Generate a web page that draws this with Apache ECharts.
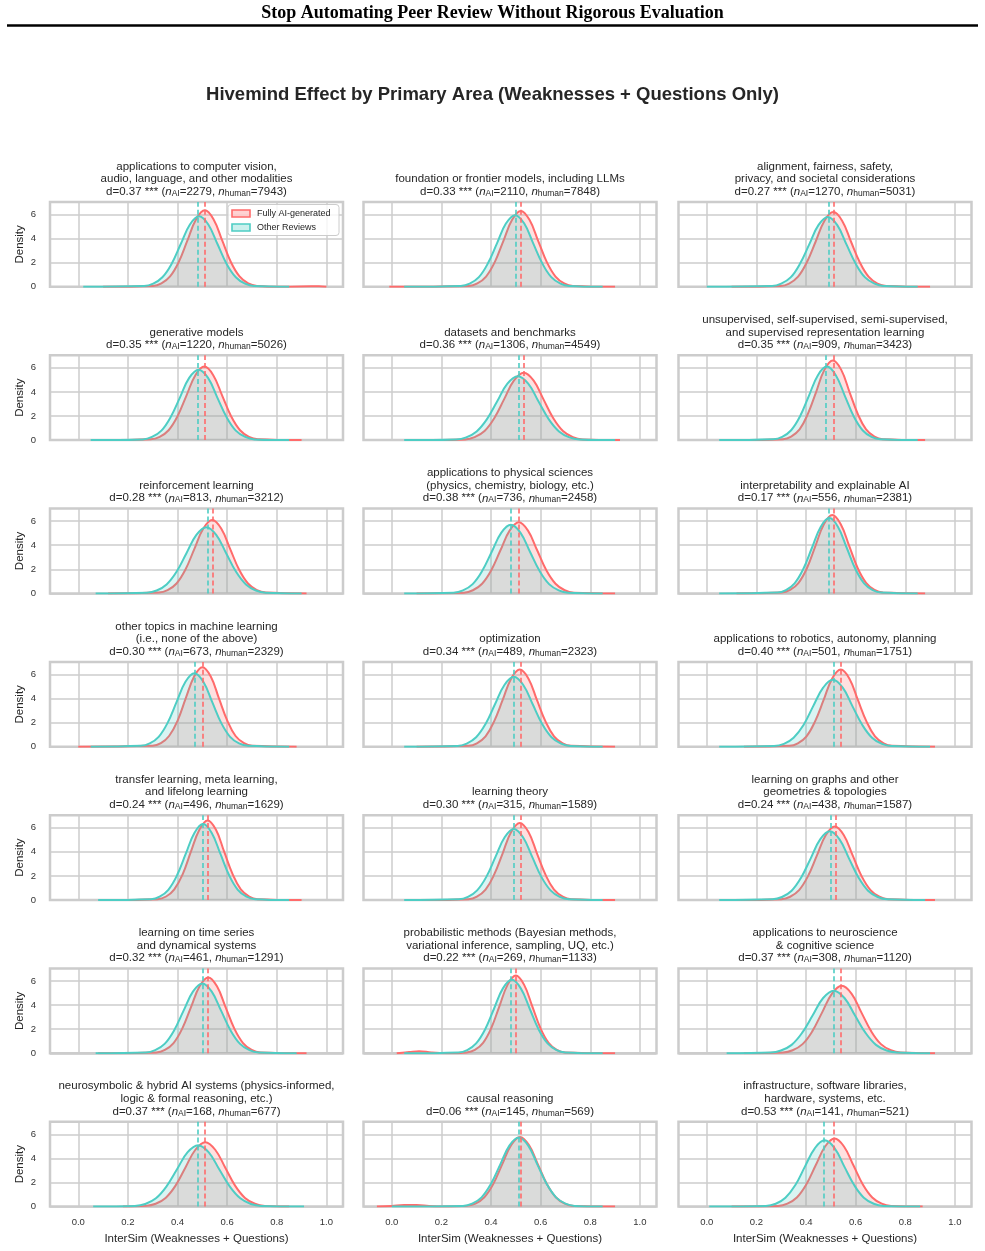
<!DOCTYPE html>
<html>
<head>
<meta charset="utf-8">
<script src="https://cdn.jsdelivr.net/npm/echarts@6/dist/echarts.min.js"></script>
<style>html,body{margin:0;padding:0;background:#fff}#c{width:985px;height:1251px}</style>
</head>
<body>
<div id="c"></div>
<script>
// ---------------- DATA ----------------
const panelTitles = [
  "applications to computer vision,\naudio, language, and other modalities",
  "foundation or frontier models, including LLMs",
  "alignment, fairness, safety,\nprivacy, and societal considerations",
  "generative models",
  "datasets and benchmarks",
  "unsupervised, self-supervised, semi-supervised,\nand supervised representation learning",
  "reinforcement learning",
  "applications to physical sciences\n(physics, chemistry, biology, etc.)",
  "interpretability and explainable AI",
  "other topics in machine learning\n(i.e., none of the above)",
  "optimization",
  "applications to robotics, autonomy, planning",
  "transfer learning, meta learning,\nand lifelong learning",
  "learning theory",
  "learning on graphs and other\ngeometries & topologies",
  "learning on time series\nand dynamical systems",
  "probabilistic methods (Bayesian methods,\nvariational inference, sampling, UQ, etc.)",
  "applications to neuroscience\n& cognitive science",
  "neurosymbolic & hybrid AI systems (physics-informed,\nlogic & formal reasoning, etc.)",
  "causal reasoning",
  "infrastructure, software libraries,\nhardware, systems, etc."
];
const cohenD = ["0.37","0.33","0.27","0.35","0.36","0.35","0.28","0.38","0.17","0.30","0.34","0.40","0.24","0.30","0.24","0.32","0.22","0.37","0.37","0.06","0.53"];
const nAI = [2279,2110,1270,1220,1306,909,813,736,556,673,489,501,496,315,438,461,269,308,168,145,141];
const nHuman = [7943,7848,5031,5026,4549,3423,3212,2458,2381,2329,2323,1751,1629,1589,1587,1291,1133,1120,677,569,521];
const meanAI = [0.508,0.520,0.509,0.508,0.532,0.508,0.540,0.512,0.506,0.500,0.516,0.540,0.521,0.516,0.516,0.524,0.500,0.544,0.512,0.516,0.513];
const meanHuman = [0.484,0.497,0.487,0.485,0.508,0.484,0.516,0.480,0.494,0.468,0.492,0.508,0.503,0.492,0.496,0.500,0.484,0.512,0.483,0.512,0.473];

// KDE curves: [x, density] pairs
const aiCurves = [
  [[0.10,0],[0.300,0.07],[0.335,0.28],[0.370,0.86],[0.405,2.06],[0.440,3.85],[0.475,5.61],[0.510,6.35],[0.545,5.61],[0.580,3.85],[0.615,2.06],[0.650,0.86],[0.685,0.28],[0.720,0.07],[0.82,0],[0.94,0.04],[0.97,0.05],[1.0,0]],
  [[-0.01,0],[0.310,0.07],[0.345,0.28],[0.380,0.85],[0.415,2.05],[0.450,3.82],[0.485,5.56],[0.520,6.3],[0.555,5.56],[0.590,3.82],[0.625,2.05],[0.660,0.85],[0.695,0.28],[0.730,0.07],[0.90,0]],
  [[0.10,0],[0.297,0.07],[0.332,0.27],[0.368,0.84],[0.403,2.02],[0.439,3.76],[0.474,5.47],[0.510,6.2],[0.546,5.47],[0.581,3.76],[0.617,2.02],[0.652,0.84],[0.688,0.27],[0.723,0.07],[0.90,0]],
  [[0.10,0],[0.292,0.07],[0.328,0.27],[0.364,0.82],[0.400,1.98],[0.436,3.70],[0.472,5.39],[0.508,6.1],[0.544,5.39],[0.580,3.70],[0.616,1.98],[0.652,0.82],[0.688,0.27],[0.724,0.07],[0.90,0]],
  [[0.10,0],[0.295,0.06],[0.334,0.25],[0.374,0.76],[0.413,1.82],[0.453,3.40],[0.492,4.94],[0.532,5.6],[0.572,4.94],[0.611,3.40],[0.651,1.82],[0.690,0.76],[0.730,0.25],[0.769,0.06],[0.92,0]],
  [[0.12,0],[0.307,0.07],[0.340,0.29],[0.374,0.89],[0.407,2.15],[0.441,4.01],[0.474,5.83],[0.508,6.6],[0.542,5.83],[0.575,4.01],[0.609,2.15],[0.642,0.89],[0.676,0.29],[0.709,0.07],[0.88,0]],
  [[0.12,0],[0.324,0.07],[0.360,0.27],[0.396,0.82],[0.432,1.98],[0.468,3.70],[0.504,5.39],[0.540,6.1],[0.576,5.39],[0.612,3.70],[0.648,1.98],[0.684,0.82],[0.720,0.27],[0.756,0.07],[0.92,0]],
  [[0.10,0],[0.290,0.06],[0.327,0.26],[0.364,0.80],[0.401,1.92],[0.438,3.58],[0.475,5.21],[0.512,5.9],[0.549,5.21],[0.586,3.58],[0.623,1.92],[0.660,0.80],[0.697,0.26],[0.734,0.06],[0.90,0]],
  [[0.12,0],[0.302,0.07],[0.336,0.29],[0.370,0.88],[0.404,2.11],[0.438,3.95],[0.472,5.74],[0.506,6.5],[0.540,5.74],[0.574,3.95],[0.608,2.11],[0.642,0.88],[0.676,0.29],[0.710,0.07],[0.88,0]],
  [[0.00,0],[0.299,0.07],[0.333,0.29],[0.366,0.89],[0.400,2.15],[0.433,4.01],[0.467,5.83],[0.500,6.6],[0.534,5.83],[0.567,4.01],[0.601,2.15],[0.634,0.89],[0.668,0.29],[0.701,0.07],[0.88,0]],
  [[0.10,0],[0.309,0.07],[0.343,0.28],[0.378,0.86],[0.412,2.08],[0.447,3.88],[0.481,5.65],[0.516,6.4],[0.551,5.65],[0.585,3.88],[0.620,2.08],[0.654,0.86],[0.689,0.28],[0.723,0.07],[0.90,0]],
  [[0.15,0],[0.333,0.07],[0.367,0.28],[0.402,0.86],[0.436,2.08],[0.471,3.88],[0.505,5.65],[0.540,6.4],[0.575,5.65],[0.609,3.88],[0.644,2.08],[0.678,0.86],[0.713,0.28],[0.747,0.07],[0.92,0]],
  [[0.12,0],[0.320,0.07],[0.354,0.29],[0.387,0.89],[0.421,2.15],[0.454,4.01],[0.488,5.83],[0.521,6.6],[0.555,5.83],[0.588,4.01],[0.622,2.15],[0.655,0.89],[0.689,0.29],[0.722,0.07],[0.90,0]],
  [[0.12,0],[0.309,0.07],[0.343,0.28],[0.378,0.86],[0.412,2.08],[0.447,3.88],[0.481,5.65],[0.516,6.4],[0.551,5.65],[0.585,3.88],[0.620,2.08],[0.654,0.86],[0.689,0.28],[0.723,0.07],[0.90,0]],
  [[0.12,0],[0.300,0.07],[0.336,0.27],[0.372,0.82],[0.408,1.98],[0.444,3.70],[0.480,5.39],[0.516,6.1],[0.552,5.39],[0.588,3.70],[0.624,1.98],[0.660,0.82],[0.696,0.27],[0.732,0.07],[0.92,0]],
  [[0.08,0],[0.314,0.07],[0.349,0.28],[0.384,0.85],[0.419,2.05],[0.454,3.82],[0.489,5.56],[0.524,6.3],[0.559,5.56],[0.594,3.82],[0.629,2.05],[0.664,0.85],[0.699,0.28],[0.734,0.07],[0.92,0]],
  [[0.02,0],[0.07,0.10],[0.11,0.18],[0.16,0.06],[0.22,0],[0.302,0.07],[0.335,0.28],[0.368,0.87],[0.401,2.10],[0.434,3.92],[0.467,5.70],[0.500,6.45],[0.533,5.70],[0.566,3.92],[0.599,2.10],[0.632,0.87],[0.665,0.28],[0.698,0.07],[0.90,0]],
  [[0.15,0],[0.307,0.06],[0.346,0.25],[0.386,0.76],[0.425,1.82],[0.465,3.40],[0.504,4.94],[0.544,5.6],[0.584,4.94],[0.623,3.40],[0.663,1.82],[0.702,0.76],[0.742,0.25],[0.781,0.06],[0.92,0]],
  [[0.18,0],[0.272,0.06],[0.312,0.24],[0.352,0.72],[0.392,1.74],[0.432,3.25],[0.472,4.72],[0.512,5.35],[0.552,4.72],[0.592,3.25],[0.632,1.74],[0.672,0.72],[0.712,0.24],[0.752,0.06],[0.85,0]],
  [[-0.06,0],[0.00,0.06],[0.05,0.13],[0.10,0.13],[0.15,0.05],[0.20,0],[0.301,0.06],[0.337,0.25],[0.373,0.78],[0.409,1.88],[0.445,3.51],[0.481,5.10],[0.517,5.78],[0.553,5.10],[0.589,3.51],[0.625,1.88],[0.661,0.78],[0.697,0.25],[0.733,0.06],[0.90,0]],
  [[0.10,0],[0.287,0.06],[0.325,0.25],[0.363,0.76],[0.401,1.84],[0.439,3.43],[0.477,4.99],[0.515,5.65],[0.553,4.99],[0.591,3.43],[0.629,1.84],[0.667,0.76],[0.705,0.25],[0.743,0.06],[0.87,0]]
];
const humanCurves = [
  [[0.02,0],[0.265,0.06],[0.302,0.26],[0.339,0.79],[0.376,1.90],[0.413,3.55],[0.450,5.17],[0.487,5.85],[0.524,5.17],[0.561,3.55],[0.598,1.90],[0.635,0.79],[0.672,0.26],[0.709,0.06],[0.85,0]],
  [[0.05,0],[0.278,0.07],[0.314,0.26],[0.351,0.80],[0.387,1.93],[0.424,3.61],[0.460,5.25],[0.497,5.95],[0.534,5.25],[0.570,3.61],[0.607,1.93],[0.643,0.80],[0.680,0.26],[0.716,0.07],[0.85,0]],
  [[0.00,0],[0.263,0.06],[0.300,0.26],[0.338,0.78],[0.375,1.89],[0.413,3.52],[0.450,5.12],[0.488,5.8],[0.526,5.12],[0.563,3.52],[0.601,1.89],[0.638,0.78],[0.676,0.26],[0.713,0.06],[0.85,0]],
  [[0.05,0],[0.260,0.06],[0.297,0.26],[0.335,0.79],[0.372,1.90],[0.410,3.55],[0.447,5.17],[0.485,5.85],[0.523,5.17],[0.560,3.55],[0.598,1.90],[0.635,0.79],[0.673,0.26],[0.710,0.06],[0.85,0]],
  [[0.05,0],[0.259,0.06],[0.300,0.23],[0.342,0.72],[0.383,1.72],[0.425,3.22],[0.466,4.68],[0.508,5.3],[0.550,4.68],[0.591,3.22],[0.633,1.72],[0.674,0.72],[0.716,0.23],[0.757,0.06],[0.90,0]],
  [[0.05,0],[0.268,0.07],[0.304,0.27],[0.340,0.82],[0.376,1.98],[0.412,3.70],[0.448,5.39],[0.484,6.1],[0.520,5.39],[0.556,3.70],[0.592,1.98],[0.628,0.82],[0.664,0.27],[0.700,0.07],[0.85,0]],
  [[0.07,0],[0.276,0.06],[0.316,0.24],[0.356,0.74],[0.396,1.79],[0.436,3.34],[0.476,4.86],[0.516,5.5],[0.556,4.86],[0.596,3.34],[0.636,1.79],[0.676,0.74],[0.716,0.24],[0.756,0.06],[0.90,0]],
  [[0.05,0],[0.249,0.06],[0.287,0.25],[0.326,0.77],[0.364,1.85],[0.403,3.46],[0.441,5.03],[0.480,5.7],[0.519,5.03],[0.557,3.46],[0.596,1.85],[0.634,0.77],[0.673,0.25],[0.711,0.06],[0.85,0]],
  [[0.05,0],[0.284,0.07],[0.319,0.28],[0.354,0.84],[0.389,2.03],[0.424,3.79],[0.459,5.52],[0.494,6.25],[0.529,5.52],[0.564,3.79],[0.599,2.03],[0.634,0.84],[0.669,0.28],[0.704,0.07],[0.85,0]],
  [[0.05,0],[0.252,0.07],[0.288,0.27],[0.324,0.82],[0.360,1.98],[0.396,3.70],[0.432,5.39],[0.468,6.1],[0.504,5.39],[0.540,3.70],[0.576,1.98],[0.612,0.82],[0.648,0.27],[0.684,0.07],[0.85,0]],
  [[0.05,0],[0.264,0.06],[0.302,0.26],[0.340,0.78],[0.378,1.89],[0.416,3.52],[0.454,5.12],[0.492,5.8],[0.530,5.12],[0.568,3.52],[0.606,1.89],[0.644,0.78],[0.682,0.26],[0.720,0.06],[0.85,0]],
  [[0.05,0],[0.271,0.06],[0.311,0.24],[0.350,0.75],[0.390,1.80],[0.429,3.37],[0.469,4.90],[0.508,5.55],[0.548,4.90],[0.587,3.37],[0.627,1.80],[0.666,0.75],[0.706,0.24],[0.745,0.06],[0.90,0]],
  [[0.08,0],[0.293,0.07],[0.328,0.28],[0.363,0.85],[0.398,2.05],[0.433,3.82],[0.468,5.56],[0.503,6.3],[0.538,5.56],[0.573,3.82],[0.608,2.05],[0.643,0.85],[0.678,0.28],[0.713,0.07],[0.85,0]],
  [[0.05,0],[0.270,0.06],[0.307,0.26],[0.344,0.80],[0.381,1.92],[0.418,3.58],[0.455,5.21],[0.492,5.9],[0.529,5.21],[0.566,3.58],[0.603,1.92],[0.640,0.80],[0.677,0.26],[0.714,0.06],[0.85,0]],
  [[0.05,0],[0.265,0.06],[0.303,0.25],[0.342,0.77],[0.380,1.85],[0.419,3.46],[0.457,5.03],[0.496,5.7],[0.535,5.03],[0.573,3.46],[0.612,1.85],[0.650,0.77],[0.689,0.25],[0.727,0.06],[0.88,0]],
  [[0.07,0],[0.272,0.06],[0.310,0.26],[0.348,0.78],[0.386,1.89],[0.424,3.52],[0.462,5.12],[0.500,5.8],[0.538,5.12],[0.576,3.52],[0.614,1.89],[0.652,0.78],[0.690,0.26],[0.728,0.06],[0.88,0]],
  [[0.05,0],[0.268,0.07],[0.304,0.27],[0.340,0.82],[0.376,1.98],[0.412,3.70],[0.448,5.39],[0.484,6.1],[0.520,5.39],[0.556,3.70],[0.592,1.98],[0.628,0.82],[0.664,0.27],[0.700,0.07],[0.85,0]],
  [[0.08,0],[0.257,0.06],[0.299,0.23],[0.342,0.70],[0.384,1.69],[0.427,3.16],[0.469,4.59],[0.512,5.2],[0.555,4.59],[0.597,3.16],[0.640,1.69],[0.682,0.70],[0.725,0.23],[0.767,0.06],[0.90,0]],
  [[0.06,0],[0.228,0.06],[0.270,0.22],[0.313,0.69],[0.355,1.66],[0.398,3.10],[0.440,4.50],[0.483,5.1],[0.526,4.50],[0.568,3.10],[0.611,1.66],[0.653,0.69],[0.696,0.22],[0.738,0.06],[0.91,0]],
  [[0.00,0],[0.287,0.06],[0.324,0.25],[0.362,0.77],[0.399,1.86],[0.437,3.48],[0.474,5.06],[0.512,5.73],[0.550,5.06],[0.587,3.48],[0.625,1.86],[0.662,0.77],[0.700,0.25],[0.737,0.06],[0.85,0]],
  [[0.01,0],[0.238,0.06],[0.278,0.24],[0.317,0.74],[0.357,1.79],[0.396,3.34],[0.436,4.86],[0.475,5.5],[0.515,4.86],[0.554,3.34],[0.594,1.79],[0.633,0.74],[0.673,0.24],[0.712,0.06],[0.86,0]]
];
const xTicks = [0, 0.2, 0.4, 0.6, 0.8, 1.0];
const yTicks = [0, 2, 4, 6];
const seriesNames = ["Fully AI-generated", "Other Reviews"];

// ---------------- LAYOUT / STYLE ----------------
const FONT = '"Liberation Sans", Arial, sans-serif';
const RED = '#FF6B6B', TEAL = '#4ECDC4';
const RED_FILL = 'rgba(255,107,107,0.3)', TEAL_FILL = 'rgba(78,205,196,0.3)';
const TXT = '#262626';
const colLeft = [50, 363.5, 678.5];
const rowTop = [202, 355.3, 508.6, 661.9, 815.2, 968.5, 1121.8];
const W = 293, H = 84.8;

const grids = [], xAxes = [], yAxes = [], series = [], graphics = [];

function titleText(i) {
  return panelTitles[i] + '\n' + 'd=' + cohenD[i] + ' *** ({i|n}{s|AI}=' + nAI[i] + ', {i|n}{s|human}=' + nHuman[i] + ')';
}

for (let i = 0; i < 21; i++) {
  const r = Math.floor(i / 3), c = i % 3;
  const left = colLeft[c], top = rowTop[r];
  const isBottom = r === 6, isLeft = c === 0;
  grids.push({left: left, top: top, width: W, height: H, show: true,
    borderColor: '#cccccc', borderWidth: 2.5, backgroundColor: '#ffffff'});
  xAxes.push({type: 'value', gridIndex: i, min: -0.114, max: 1.067,
    axisLine: {show: false}, axisTick: {show: false, customValues: xTicks},
    axisLabel: {show: isBottom, customValues: xTicks, formatter: v => v.toFixed(1),
      fontSize: 9.5, color: '#333', margin: 11, fontFamily: FONT},
    splitLine: {show: true, lineStyle: {color: '#cccccc', width: 1.5}},
    name: isBottom ? 'InterSim (Weaknesses + Questions)' : '', nameLocation: 'middle', nameGap: 26,
    nameTextStyle: {fontSize: 11.5, color: TXT, fontFamily: FONT}});
  yAxes.push({type: 'value', gridIndex: i, min: 0, max: 7.04,
    axisLine: {show: false}, axisTick: {show: false, customValues: yTicks},
    axisLabel: {show: isLeft, customValues: yTicks, fontSize: 9.5, color: '#333', margin: 14, fontFamily: FONT},
    splitLine: {show: true, lineStyle: {color: '#cccccc', width: 1.5}},
    name: isLeft ? 'Density' : '', nameLocation: 'middle', nameGap: 24,
    nameTextStyle: {fontSize: 11.5, color: TXT, fontFamily: FONT}});
  const mk = (m, col) => ({silent: true, symbol: ['none', 'none'], animation: false,
    label: {show: false}, lineStyle: {color: col, type: [5, 3], width: 1.6, opacity: 1},
    emphasis: {disabled: true}, data: [{xAxis: m}]});
  series.push({type: 'line', name: seriesNames[0], xAxisIndex: i, yAxisIndex: i,
    data: aiCurves[i], smooth: 0.4, showSymbol: false, symbol: 'none',
    lineStyle: {color: RED, width: 2}, itemStyle: {color: RED},
    areaStyle: {color: RED_FILL, origin: 'start'}, z: 2, silent: true,
    markLine: mk(meanAI[i], RED)});
  series.push({type: 'line', name: seriesNames[1], xAxisIndex: i, yAxisIndex: i,
    data: humanCurves[i], smooth: 0.4, showSymbol: false, symbol: 'none',
    lineStyle: {color: TEAL, width: 2}, itemStyle: {color: TEAL},
    areaStyle: {color: TEAL_FILL, origin: 'start'}, z: 3, silent: true,
    markLine: mk(meanHuman[i], TEAL)});
  graphics.push({type: 'text', x: left + W / 2, y: top - 4, silent: true,
    style: {text: titleText(i), fill: TXT, fontSize: 11.5, fontFamily: FONT,
      align: 'center', verticalAlign: 'bottom', lineHeight: 12.6,
      rich: {
        i: {fontStyle: 'italic', fontSize: 11.5, fontFamily: FONT, fill: TXT, lineHeight: 12.6},
        s: {fontSize: 8.5, fontFamily: FONT, fill: TXT, verticalAlign: 'bottom', lineHeight: 8.5}
      }}});
}

// header + main title
graphics.push({type: 'text', x: 492.5, y: 13, silent: true,
  style: {text: 'Stop Automating Peer Review Without Rigorous Evaluation', fill: '#000',
    font: 'bold 18px "Liberation Serif", "Times New Roman", serif', align: 'center', verticalAlign: 'middle'}});
graphics.push({type: 'line', silent: true, shape: {x1: 7, y1: 25.5, x2: 978, y2: 25.5},
  style: {stroke: '#000', lineWidth: 2.5}});
graphics.push({type: 'text', x: 492.5, y: 95, silent: true,
  style: {text: 'Hivemind Effect by Primary Area (Weaknesses + Questions Only)', fill: TXT,
    font: 'bold 18.5px ' + FONT, align: 'center', verticalAlign: 'middle'}});

// legend (first panel)
graphics.push({type: 'rect', silent: true, z: 10, shape: {x: 228, y: 204.5, width: 111, height: 31, r: 3},
  style: {fill: 'rgba(255,255,255,0.8)', stroke: '#cccccc', lineWidth: 1}});
graphics.push({type: 'rect', silent: true, z: 11, shape: {x: 232, y: 210, width: 18, height: 7},
  style: {fill: RED_FILL, stroke: RED, lineWidth: 1.6}});
graphics.push({type: 'rect', silent: true, z: 11, shape: {x: 232, y: 224, width: 18, height: 7},
  style: {fill: TEAL_FILL, stroke: TEAL, lineWidth: 1.6}});
graphics.push({type: 'text', silent: true, z: 11, x: 257, y: 213.8,
  style: {text: seriesNames[0], fill: TXT, fontSize: 9, fontFamily: FONT, verticalAlign: 'middle'}});
graphics.push({type: 'text', silent: true, z: 11, x: 257, y: 227.8,
  style: {text: seriesNames[1], fill: TXT, fontSize: 9, fontFamily: FONT, verticalAlign: 'middle'}});

const chart = echarts.init(document.getElementById('c'), null, {renderer: 'canvas'});
chart.setOption({
  animation: false,
  backgroundColor: '#ffffff',
  textStyle: {fontFamily: FONT},
  grid: grids, xAxis: xAxes, yAxis: yAxes, series: series,
  graphic: graphics
});
</script>
</body>
</html>
